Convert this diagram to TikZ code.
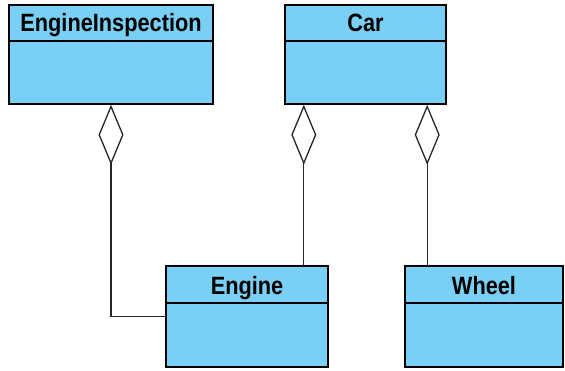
\documentclass[tikz,border=0pt]{standalone}
\usepackage{fontspec}
\newfontfamily\clsfont{Liberation Sans}[FakeStretch=0.87]
\usetikzlibrary{arrows.meta,calc}
\definecolor{clsfill}{RGB}{122,207,244}
\tikzset{
  cls/.style={draw=black, fill=clsfill, line width=1.6pt, inner sep=0pt},
  clsname/.style={anchor=base, inner sep=0pt, font=\clsfont\bfseries\fontsize{25}{25}\selectfont},
  divider/.style={line width=1.6pt},
  agg/.style={draw=black!85, line width=1.3pt,
    {Diamond[open, length=60pt, width=25pt, line width=1.3pt]}-}
}
\begin{document}
\begin{tikzpicture}[x=1pt, y=-1pt]
\useasboundingbox (0,0) rectangle (565,371);

% class boxes
\node[cls, minimum width=204pt, minimum height=99pt] (EI) at (111,54.5) {};
\node[cls, minimum width=161pt, minimum height=99pt] (Car) at (365.5,54.5) {};
\node[cls, minimum width=162pt, minimum height=101pt] (Engine) at (247,316.5) {};
\node[cls, minimum width=158pt, minimum height=101pt] (Wheel) at (484,316.5) {};

% compartment separators
\draw[divider] ($(EI.north west)+(0,37)$) -- ($(EI.north east)+(0,37)$);
\draw[divider] ($(Car.north west)+(0,37)$) -- ($(Car.north east)+(0,37)$);
\draw[divider] ($(Engine.north west)+(0,38)$) -- ($(Engine.north east)+(0,38)$);
\draw[divider] ($(Wheel.north west)+(0,38)$) -- ($(Wheel.north east)+(0,38)$);

% class names, set on their baselines
\node[clsname] (EIname) at ($(EI.north)+(0,27.5)$) {EngineInspection};
\node[clsname] (Carname) at ($(Car.north)+(0,27.5)$) {Car};
\node[clsname] (Enginename) at ($(Engine.north)+(0,29)$) {Engine};
\node[clsname] (Wheelname) at ($(Wheel.north)+(0,29)$) {Wheel};

% aggregation connectors
\coordinate (engtop) at ($(Engine.north east)+(-25,0)$);
\coordinate (whltop) at ($(Wheel.north west)+(23,0)$);
\draw[agg] (EI.south) |- (Engine.west);
\draw[agg] (engtop |- Car.south) -- (engtop);
\draw[agg] (whltop |- Car.south) -- (whltop);
\end{tikzpicture}
\end{document}
